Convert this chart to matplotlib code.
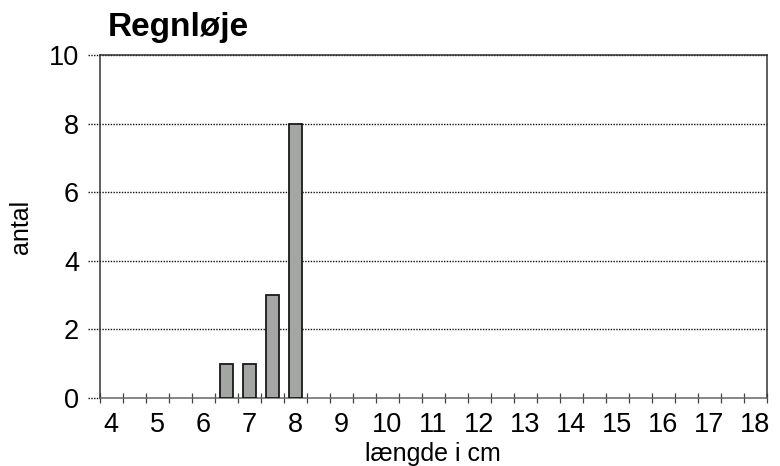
import numpy as np
import matplotlib
matplotlib.use("Agg")
import matplotlib.pyplot as plt

# category axis: lengths in half-cm steps
categories = [4 + 0.5 * i for i in range(29)]   # 4.0 ... 18.0
bar_lengths = [6.5, 7.0, 7.5, 8.0]
bar_counts = [1, 1, 3, 8]
y_ticks = [0, 2, 4, 6, 8, 10]

plt.rcParams['font.family'] = ['Liberation Sans', 'DejaVu Sans']

fig = plt.figure(figsize=(7.8, 4.66), dpi=100)
ax = fig.add_axes([0.128, 0.146, 0.855, 0.736])

pos = [categories.index(v) for v in bar_lengths]
ax.bar(pos, bar_counts, width=0.57, color='#a3a6a3', edgecolor='#1a1a1a',
       linewidth=1.3, zorder=3)

ax.set_xlim(-0.5, len(categories) - 0.5)
ax.set_ylim(0, 10)

# dotted gridlines that reach a little left of the axis (Excel style)
for y in y_ticks[1:]:
    ax.axhline(y, xmin=-0.018, xmax=1, color='#111111', lw=1.0,
               ls=(0, (1, 1)), clip_on=False, zorder=1)
ax.axhline(0, xmin=-0.018, xmax=0, color='#111111', lw=1.0,
           ls=(0, (1, 1)), clip_on=False)

# y axis
ax.set_yticks(y_ticks)
ax.tick_params(axis='y', length=0, pad=15, labelsize=19.5)

# x axis: ticks between categories, labels at whole cm
ax.set_xticks(np.arange(-0.5, len(categories), 1))
ax.set_xticklabels([])
ax.tick_params(axis='x', which='major', direction='inout', length=7,
               width=0.9, color='#444444')
label_pos = [i for i, c in enumerate(categories) if c == int(c)]
ax.set_xticks(label_pos, minor=True)
ax.set_xticklabels([str(int(categories[i])) for i in label_pos], minor=True)
ax.tick_params(axis='x', which='minor', length=0, pad=10, labelsize=19.5)

for side in ['left', 'bottom', 'top', 'right']:
    ax.spines[side].set_linewidth(1.1)
    ax.spines[side].set_color('#333333')
ax.spines['bottom'].set_color('#666666')

ax.set_xlabel('længde i cm', fontsize=18, labelpad=3)
ax.set_ylabel('antal', fontsize=18, labelpad=11)
fig.text(0.138, 0.923, 'Regnløje', fontsize=24, fontweight='bold',
         ha='left', va='baseline')

fig.savefig('out.png', dpi=100)
